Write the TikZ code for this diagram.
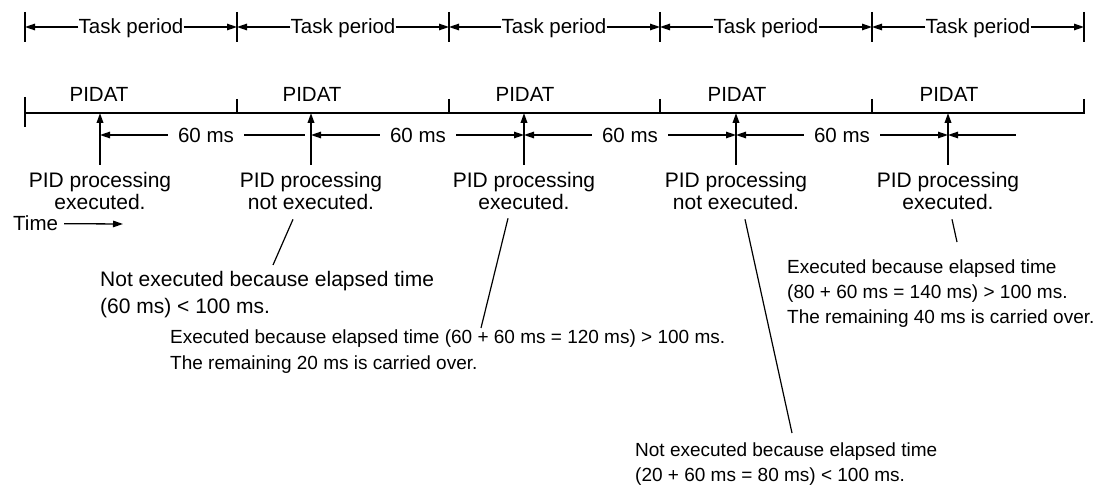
\documentclass[tikz,border=0pt]{standalone}
\usepackage{fontspec}
\setmainfont{Liberation Sans}
\usetikzlibrary{arrows.meta, positioning}

\begin{document}
\begin{tikzpicture}[x=1pt, y=-1pt, >={Triangle[length=10pt,width=6.5pt]},
          every node/.style={font=\fontsize{20.5}{23}\selectfont, inner sep=0pt},
          lbl/.style={font=\fontsize{21}{22.5}\selectfont, align=center, anchor=north},
          note/.style={font=\fontsize{19}{25}\selectfont, align=left, anchor=north west},
          ms/.style={inner xsep=10pt},
          period/.style={line width=1.3pt, ->},
          span/.style={line width=1.3pt},
          tick/.style={line width=2.5pt},
          rise/.style={line width=2pt, ->},
          lead/.style={line width=1.2pt}]
        \useasboundingbox (0,0) rectangle (1103,489);
        % task period ruler
        \coordinate (t0) at (25,27);
        \coordinate (t1) at (237,27);
        \coordinate (t2) at (449,27);
        \coordinate (t3) at (660,27);
        \coordinate (t4) at (872,27);
        \coordinate (t5) at (1084,27);
        \draw[tick] ([yshift=15pt]t0) -- ([yshift=-15pt]t0);
        \draw[tick] ([yshift=15pt]t1) -- ([yshift=-15pt]t1);
        \draw[tick] ([yshift=15pt]t2) -- ([yshift=-15pt]t2);
        \draw[tick] ([yshift=15pt]t3) -- ([yshift=-15pt]t3);
        \draw[tick] ([yshift=15pt]t4) -- ([yshift=-15pt]t4);
        \draw[tick] ([yshift=15pt]t5) -- ([yshift=-15pt]t5);
        \node[anchor=base] (p1) at (131,34) {Task period};
        \node[anchor=base] (p2) at (343,34) {Task period};
        \node[anchor=base] (p3) at (554,34) {Task period};
        \node[anchor=base] (p4) at (766,34) {Task period};
        \node[anchor=base] (p5) at (978,34) {Task period};
        \draw[period] (p1.west |- t0) -- (t0);
        \draw[period] (p1.east |- t1) -- (t1);
        \draw[period] (p2.west |- t1) -- (t1);
        \draw[period] (p2.east |- t2) -- (t2);
        \draw[period] (p3.west |- t2) -- (t2);
        \draw[period] (p3.east |- t3) -- (t3);
        \draw[period] (p4.west |- t3) -- (t3);
        \draw[period] (p4.east |- t4) -- (t4);
        \draw[period] (p5.west |- t4) -- (t4);
        \draw[period] (p5.east |- t5) -- (t5);
        % time line
        \coordinate (a0) at (25,113);
        \coordinate (a1) at (237,113);
        \coordinate (a2) at (449,113);
        \coordinate (a3) at (660,113);
        \coordinate (a4) at (872,113);
        \coordinate (a5) at (1084,113);
        \draw[tick] ([yshift=14pt]a5) -- (a5) -- (a0);
        \draw[tick] ([yshift=16pt]a0) -- ([yshift=-14pt]a0);
        \draw[tick] ([yshift=14pt]a1) -- (a1);
        \draw[tick] ([yshift=14pt]a2) -- (a2);
        \draw[tick] ([yshift=14pt]a3) -- (a3);
        \draw[tick] ([yshift=14pt]a4) -- (a4);
        \node[anchor=base] (at1) at (99,102)  {PIDAT};
        \node[anchor=base] (at2) at (312,102) {PIDAT};
        \node[anchor=base] (at3) at (525,102) {PIDAT};
        \node[anchor=base] (at4) at (737,102) {PIDAT};
        \node[anchor=base] (at5) at (949,102) {PIDAT};
        % PID calls
        \coordinate (e1) at (100,113);
        \coordinate (e2) at (311,113);
        \coordinate (e3) at (524,113);
        \coordinate (e4) at (736,113);
        \coordinate (e5) at (948,113);
        \node[lbl] (l1) at (100,172) {PID processing\\executed.};
        \node[lbl] (l2) at (311,172) {PID processing\\not executed.};
        \node[lbl] (l3) at (524,172) {PID processing\\executed.};
        \node[lbl] (l4) at (736,172) {PID processing\\not executed.};
        \node[lbl] (l5) at (948,172) {PID processing\\executed.};
        \draw[rise] ([yshift=7pt]l1.north) -- (e1);
        \draw[rise] ([yshift=7pt]l2.north) -- (e2);
        \draw[rise] ([yshift=7pt]l3.north) -- (e3);
        \draw[rise] ([yshift=7pt]l4.north) -- (e4);
        \draw[rise] ([yshift=7pt]l5.north) -- (e5);
        % 60 ms spans
        \node[ms] (m1) at (206,135) {60 ms};
        \node[ms] (m2) at (418,135) {60 ms};
        \node[ms] (m3) at (630,135) {60 ms};
        \node[ms] (m4) at (842,135) {60 ms};
        \coordinate (s1) at (305,135);
        \coordinate (s5) at (1016,135);
        \draw[span, ->] (m1.west) -- (e1 |- m1);
        \draw[span] (m1.east) -- (s1);
        \draw[span, ->] (m2.west) -- (e2 |- m2);
        \draw[span, ->] (m2.east) -- (e3 |- m2);
        \draw[span, ->] (m3.west) -- (e3 |- m3);
        \draw[span, ->] (m3.east) -- (e4 |- m3);
        \draw[span, ->] (m4.west) -- (e4 |- m4);
        \draw[span, ->] (m4.east) -- (e5 |- m4);
        \draw[span, <-] (e5 |- m4) -- (s5);
        \node[anchor=base west] (time) at (13,231) {Time};
        \coordinate (tend) at (123,224);
        \draw[span, ->] ([xshift=6pt]time.east) -- (tend);
        % notes
        \node[note, font=\fontsize{21}{27}\selectfont] (n1) at (100,271)
          {Not executed because elapsed time\\(60 ms) < 100 ms.};
        \node[note, font=\fontsize{19}{26}\selectfont] (n2) at (170,330)
          {Executed because elapsed time (60 + 60 ms = 120 ms) > 100 ms.\\The remaining 20 ms is carried over.};
        \node[note] (n3) at (635,443)
          {Not executed because elapsed time\\(20 + 60 ms = 80 ms) < 100 ms.};
        \node[note] (n4) at (787,260)
          {Executed because elapsed time\\(80 + 60 ms = 140 ms) > 100 ms.\\The remaining 40 ms is carried over.};
        \draw[lead] ([xshift=-18pt,yshift=-9pt]l2.south) -- ([xshift=173pt,yshift=6pt]n1.north west);
        \draw[lead] ([xshift=-16pt,yshift=-8pt]l3.south) -- ([xshift=311pt,yshift=2pt]n2.north west);
        \draw[lead] ([xshift=9pt,yshift=-9pt]l4.south) -- ([xshift=157pt,yshift=10pt]n3.north west);
        \draw[lead] ([xshift=4pt,yshift=-9pt]l5.south) -- ([xshift=170pt,yshift=18pt]n4.north west);
      \end{tikzpicture}
\end{document}
